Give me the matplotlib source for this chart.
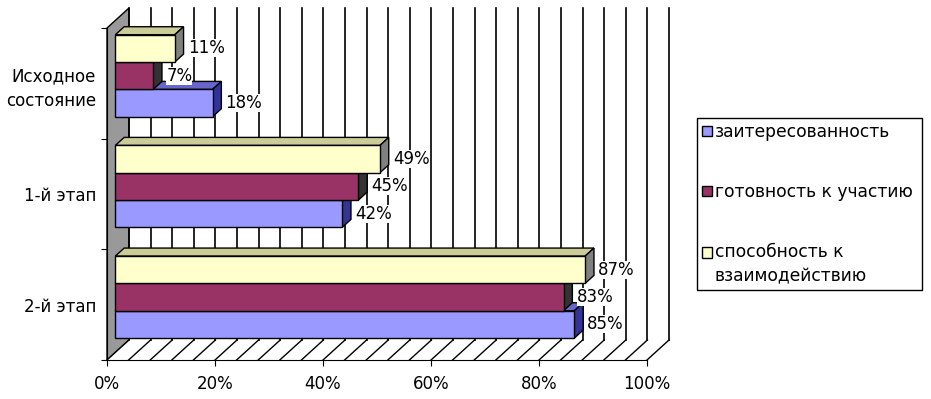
import matplotlib.pyplot as plt
from matplotlib.patches import Polygon, Patch

# данные
categories = ['Исходное\nсостояние', '1-й этап', '2-й этап']
series_names = ['заитересованность', 'готовность к участию', 'способность к\nвзаимодействию']
interest = [18, 42, 85]
readiness = [7, 45, 83]
ability = [11, 49, 87]
x_ticks = [0, 20, 40, 60, 80, 100]
x_tick_labels = ['0%', '20%', '40%', '60%', '80%', '100%']
grid_step = 4

front_colors = ['#9999FF', '#993366', '#FFFFCC']
side_colors = ['#333399', '#333333', '#808080']
top_colors = ['#6666CC', '#662244', '#CCCC99']

plt.rcParams['font.family'] = ['DejaVu Sans']
plt.rcParams['font.size'] = 12

fig = plt.figure(figsize=(9.31, 3.99), dpi=100)
ax = fig.add_axes([107 / 931, 39 / 399, 540 / 931, 332 / 399])
ax.set_xlim(0, 100)
ax.set_ylim(3, 0)

# глубина "3D" коробки: пиксели -> единицы данных
px_x = 100 / 540
px_y = 3 / 332
wall_dx, wall_dy = 22 * px_x, -20 * px_y
front_dx, front_dy = 0.38 * wall_dx, 0.38 * wall_dy
back_dx, back_dy = 0.78 * wall_dx, 0.78 * wall_dy
n = len(categories)

# левая стенка
ax.add_patch(Polygon([(0, 0), (wall_dx, wall_dy), (wall_dx, n + wall_dy), (0, n)],
                     closed=True, facecolor='#999999', edgecolor='black', lw=1,
                     clip_on=False, zorder=1))

# пол
ax.add_patch(Polygon([(0, n), (100, n), (100 + wall_dx, n + wall_dy), (wall_dx, n + wall_dy)],
                     closed=True, facecolor='white', edgecolor='none', clip_on=False, zorder=1))
for v in range(0, 101, grid_step):
    ax.plot([v, v + wall_dx], [n, n + wall_dy], color='black', lw=1, clip_on=False, zorder=1.5)
    # сетка на задней стенке
    ax.plot([v + wall_dx, v + wall_dx], [wall_dy, n + wall_dy], color='black', lw=1.2,
            clip_on=False, zorder=1.2)

# столбики
h = 0.247
all_series = [interest, readiness, ability]
offsets = [h, 0, -h]
for k, (vals, off) in enumerate(zip(all_series, offsets)):
    ys = [i + 0.5 + off + front_dy for i in range(n)]
    z = 3 + k
    for y, v in zip(ys, vals):
        top = y - h / 2
        bot = y + h / 2
        ax.add_patch(Polygon([(front_dx, top), (front_dx + v, top),
                              (back_dx + v, top + back_dy - front_dy), (back_dx, top + back_dy - front_dy)],
                             closed=True, facecolor=top_colors[k], edgecolor='black', lw=1,
                             clip_on=False, zorder=z))
        ax.add_patch(Polygon([(front_dx + v, top), (back_dx + v, top + back_dy - front_dy),
                              (back_dx + v, bot + back_dy - front_dy), (front_dx + v, bot)],
                             closed=True, facecolor=side_colors[k], edgecolor='black', lw=1,
                             clip_on=False, zorder=z))
        ax.text(front_dx + v + 13 * px_x, y, f'{v}%', ha='left', va='center', fontsize=12,
                bbox=dict(facecolor='white', edgecolor='none', pad=0), zorder=10)
    ax.barh(ys, vals, left=front_dx, height=h, color=front_colors[k], edgecolor='black',
            lw=1, clip_on=False, zorder=z + 0.5)

# оси
ax.spines['top'].set_visible(False)
ax.spines['right'].set_visible(False)
ax.set_xticks(x_ticks, x_tick_labels)
ax.tick_params(axis='x', length=4, pad=7)
ax.set_yticks(range(n + 1), [''] * (n + 1))
ax.set_yticks([i + 0.5 for i in range(n)], categories, minor=True)
ax.tick_params(axis='y', which='major', length=4)
ax.tick_params(axis='y', which='minor', length=0, pad=8)
for lab in ax.get_yticklabels(minor=True):
    lab.set_linespacing(1.45)

# легенда
handles = [Patch(facecolor=c, edgecolor='black') for c in front_colors]
leg = fig.legend(handles, series_names, loc='upper left',
                 bbox_to_anchor=(697 / 931, 102 / 399, 225 / 931, 179 / 399), mode='expand',
                 frameon=True, fancybox=False, edgecolor='black', framealpha=1,
                 handlelength=0.55, handleheight=0.55, handletextpad=0.2,
                 borderpad=0.3, borderaxespad=0, labelspacing=2.45, fontsize=12.3)
leg.get_frame().set_linewidth(1)
leg.get_texts()[2].set_linespacing(1.45)
# маркер третьего пункта — напротив первой строки
h3 = leg.legend_handles[2]
h3.set_y(h3.get_y() + 9)

fig.savefig('out.png', dpi=100)
